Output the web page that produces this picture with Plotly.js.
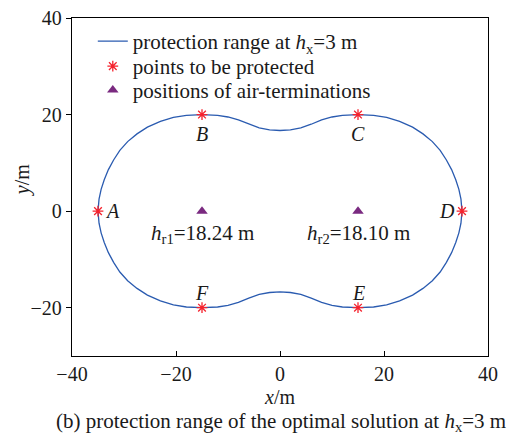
<!DOCTYPE html>
<html>
<head>
<meta charset="utf-8">
<script src="https://cdn.plot.ly/plotly-3.0.1.min.js"></script>
<style>html,body{margin:0;padding:0;background:#fff;}#chart{width:511px;height:435px;}</style>
</head>
<body>
<div id="chart"></div>
<script>
// Protection range contour at hx = 3 m, closed loop A -> top -> D -> bottom -> A
const contourX = [-35,-34.8,-34.4,-33.8,-33,-32,-30.8,-29.3,-27.5,-25.5,-23,-20.5,-18,-15,-12,-10,-8,-6,-4,-2,0,2,4,6,8,10,12,15,18,20.5,23,25.5,27.5,29.3,30.8,32,33,33.8,34.4,34.8,35,
  34.8,34.4,33.8,33,32,30.8,29.3,27.5,25.5,23,20.5,18,15,12,10,8,6,4,2,0,-2,-4,-6,-8,-10,-12,-15,-18,-20.5,-23,-25.5,-27.5,-29.3,-30.8,-32,-33,-33.8,-34.4,-34.8,-35];
const contourY = [0,2.5,4.5,6.5,8.6,10.6,12.6,14.4,16.0,17.4,18.6,19.4,19.85,20,19.85,19.5,18.9,18.0,17.25,16.85,16.7,16.85,17.25,18.0,18.9,19.5,19.85,20,19.85,19.4,18.6,17.4,16.0,14.4,12.6,10.6,8.6,6.5,4.5,2.5,0,
  -2.5,-4.5,-6.5,-8.6,-10.6,-12.6,-14.4,-16.0,-17.4,-18.6,-19.4,-19.85,-20,-19.85,-19.5,-18.9,-18.0,-17.25,-16.85,-16.7,-16.85,-17.25,-18.0,-18.9,-19.5,-19.85,-20,-19.85,-19.4,-18.6,-17.4,-16.0,-14.4,-12.6,-10.6,-8.6,-6.5,-4.5,-2.5,0];

// Points to be protected
const pointNames = ["A","B","C","D","E","F"];
const pointX = [-35,-15,15,35,15,-15];
const pointY = [0,20,20,0,-20,-20];

// Air-terminations
const rodNames = ["r1","r2"];
const rodHeights = ["18.24","18.10"];
const rodX = [-15,15];
const rodY = [0,0];

// Tick values
const xTicks = [-40,-20,0,20,40];
const yTicks = [-20,0,20,40];

const serif = "'Liberation Serif', 'Times New Roman', serif";
const ink = "#1a1a1a";
const blue = "#2a5bb0";
const red = "#f5222d";
const purple = "#7a2a80";

const traces = [
  {x: contourX, y: contourY, type: "scatter", mode: "lines",
   line: {color: blue, width: 1.3}, legend: "legend",
   name: "protection range at <i>h</i><sub>x</sub>=3 m"},
  {x: pointX, y: pointY, type: "scatter", mode: "markers", legend: "legend2",
   marker: {symbol: "asterisk-open", size: 9, color: red, line: {color: red, width: 1.3}},
   name: "points to be protected"},
  {x: rodX, y: rodY, type: "scatter", mode: "markers", legend: "legend3",
   marker: {symbol: "triangle-up", size: 10, color: purple},
   name: "positions of air-terminations"}
];

// label offsets (styling only)
const labelOffsets = {A:[5,0,"left"], B:[0,-19,"center"], C:[0,-19,"center"], D:[-5,0,"right"], E:[0,15,"center"], F:[0,15,"center"]};
const annotations = [];
pointNames.forEach((n,i) => {
  const o = labelOffsets[n];
  annotations.push({x: pointX[i], y: pointY[i], xref:"x", yref:"y", text: "<i>"+n+"</i>",
    showarrow:false, xshift:o[0], yshift:o[1], xanchor:o[2], yanchor:"middle",
    font:{family: serif, size: 20, color: ink}});
});
rodNames.forEach((t,i) => {
  annotations.push({x: rodX[i], y: rodY[i], xref:"x", yref:"y",
    text: "<i>h</i><sub>" + t + "</sub>=" + rodHeights[i] + " m",
    showarrow:false, yshift:-23, xanchor:"center", yanchor:"middle",
    font:{family: serif, size: 21, color: ink}});
});
// y axis title (placed as annotation for exact position)
annotations.push({x:0, y:0.52, xref:"paper", yref:"paper", showarrow:false, textangle:-90,
  xshift:-50, text:"<i>y</i>/m", xanchor:"center", yanchor:"middle",
  font:{family: serif, size: 20, color: ink}});
// caption
annotations.push({x:0.502, y:-0.194, xref:"paper", yref:"paper", showarrow:false,
  text:"(b) protection range of the optimal solution at <i>h</i><sub>x</sub>=3 m",
  xanchor:"center", yanchor:"middle", font:{family: serif, size: 21, color: ink}});

const legendBase = {x: 0.05, xanchor: "left", yanchor: "middle", bgcolor: "rgba(0,0,0,0)",
  font: {family: serif, size: 21, color: ink}};

const layout = {
  width: 511, height: 435,
  margin: {l: 72, r: 23, t: 18, b: 79, pad: 0},
  paper_bgcolor: "#fff", plot_bgcolor: "#fff",
  font: {family: serif, size: 20, color: ink},
  showlegend: true,
  legend: Object.assign({y: 0.9306}, legendBase),
  legend2: Object.assign({y: 0.8567}, legendBase),
  legend3: Object.assign({y: 0.7858}, legendBase),
  xaxis: {range: [-40, 40], tickvals: xTicks, ticks: "inside", ticklen: 5, tickcolor: "#000",
    showline: true, mirror: true, linecolor: "#000", linewidth: 1.3, showgrid: false, zeroline: false,
    tickfont: {family: serif, size: 20, color: ink},
    title: {text: "<i>x</i>/m", font: {family: serif, size: 20, color: ink}, standoff: 5}},
  yaxis: {range: [-30, 40], tickvals: yTicks, ticks: "outside", ticklen: 5, tickcolor: "#000",
    showline: true, mirror: true, linecolor: "#000", linewidth: 1.3, showgrid: false, zeroline: false,
    tickfont: {family: serif, size: 20, color: ink}},
  annotations: annotations
};

Plotly.newPlot("chart", traces, layout, {displayModeBar: false, staticPlot: true});
</script>
</body>
</html>
